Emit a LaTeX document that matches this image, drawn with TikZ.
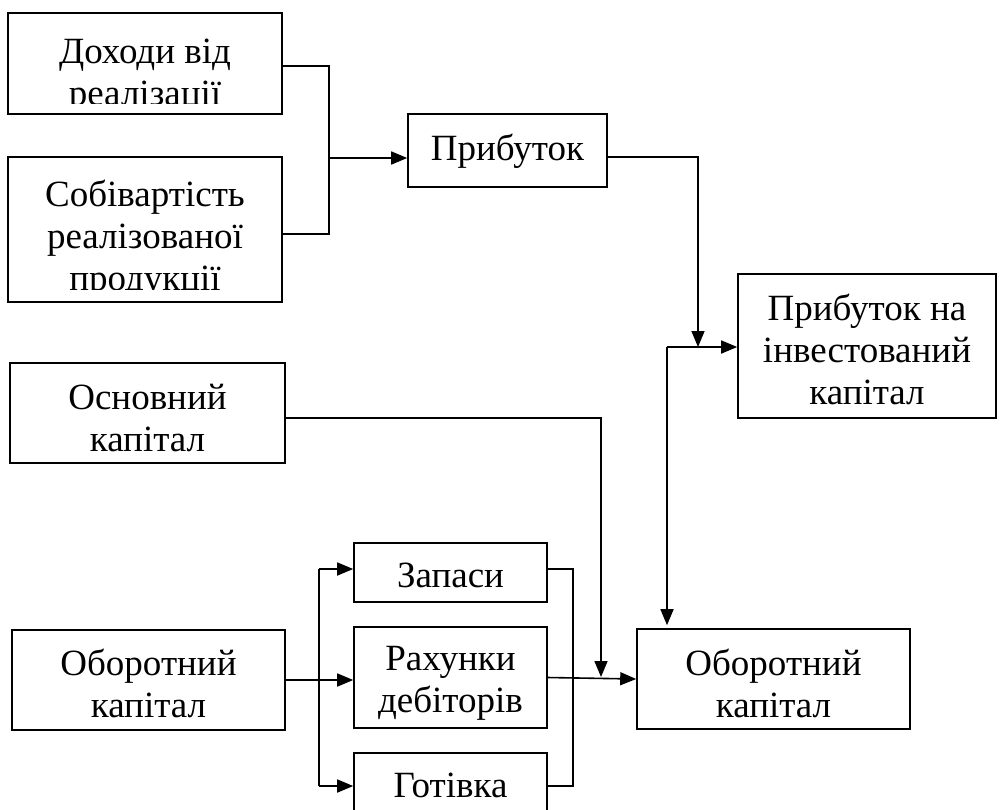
\documentclass[tikz,border=0pt]{standalone}
\usepackage{fontspec}
\setmainfont{Liberation Serif}
\usetikzlibrary{arrows.meta}
\begin{document}
\begin{tikzpicture}[x=1pt,y=-1pt,
  box/.style={draw, line width=1.6pt, inner sep=0pt},
  txt/.style={align=center, font=\fontsize{37}{42}\selectfont, inner sep=0pt},
  conn/.style={line width=1.6pt},
  arr/.style={conn, -{Triangle[length=16pt,width=13pt]}}]
\useasboundingbox (0,0) rectangle (1000,809);

% boxes
\node[box, minimum width=274, minimum height=101] (b1) at (145,63.5) {};
\node[box, minimum width=274, minimum height=145] (b2) at (145,229.5) {};
\node[box, minimum width=199, minimum height=73] (p) at (507.5,150.5) {};
\node[box, minimum width=258, minimum height=144] (r) at (867,346) {};
\node[box, minimum width=275, minimum height=100] (o) at (147.5,413) {};
\node[box, minimum width=273, minimum height=100] (l) at (148.5,680) {};
\node[box, minimum width=193, minimum height=59] (z) at (450.5,572.5) {};
\node[box, minimum width=193, minimum height=101] (d) at (450.5,677.5) {};
\node[box, minimum width=193, minimum height=80] (g) at (450.5,793) {};
\node[box, minimum width=273, minimum height=100] (k) at (773.5,679) {};

% texts (anchor=base is the baseline of the last line)
\begin{scope}
\clip (8,13) rectangle (282,103);
\node[txt, anchor=base] (t1) at (145,105) {Доходи від\\реалізації};
\end{scope}
\begin{scope}
\clip (8,157) rectangle (282,289);
\node[txt, anchor=base] (t2) at (145,290) {Собівартість\\реалізованої\\продукції};
\end{scope}
\node[txt, anchor=base] (tp) at (507.5,160) {Прибуток};
\node[txt, anchor=base] (tr) at (867,404) {Прибуток на\\інвестований\\капітал};
\node[txt, anchor=base] (to) at (147.5,451) {Основний\\капітал};
\node[txt, anchor=base] (tl) at (148.5,717) {Оборотний\\капітал};
\node[txt, anchor=base] (tz) at (450.5,587) {Запаси};
\node[txt, anchor=base] (td) at (450.5,712) {Рахунки\\дебіторів};
\node[txt, anchor=base] (tg) at (450.5,797) {Готівка};
\node[txt, anchor=base] (tk) at (773.5,717) {Оборотний\\капітал};

% junctions
\coordinate (j1) at (329,158);
\coordinate (j2) at (698,347);
\coordinate (j3) at (667,347);
\coordinate (j4) at (601,677);
\coordinate (j5) at (319,569);
\coordinate (j6) at (319,786);
\coordinate (j7) at (573,786);

% connectors
\draw[conn] ([yshift=-2.5pt]b1.east) -| (j1) |- ([yshift=-4.5pt]b2.east);
\draw[arr] (j1) -- (j1 -| p.west);
\draw[arr] ([yshift=-6.5pt]p.east) -| (j2);
\draw[arr] (j3) -- (j3 -| r.west);
\draw[arr, shorten >=3pt] (j3) -- (j3 |- k.north);
\draw[arr] ([yshift=-5pt]o.east) -| (j4);
\draw[arr] (l.east) -- (l.east -| d.west);
\draw[conn] (j5) -- (j6);
\draw[arr] (j5) -- (j5 -| z.west);
\draw[arr] (j6) -- (j6 -| g.west);
\draw[conn] ([yshift=3.5pt]z.east) -| (j7) -- (j7 -| g.east);
\draw[arr] (d.east) -- (k.west);
\end{tikzpicture}
\end{document}
